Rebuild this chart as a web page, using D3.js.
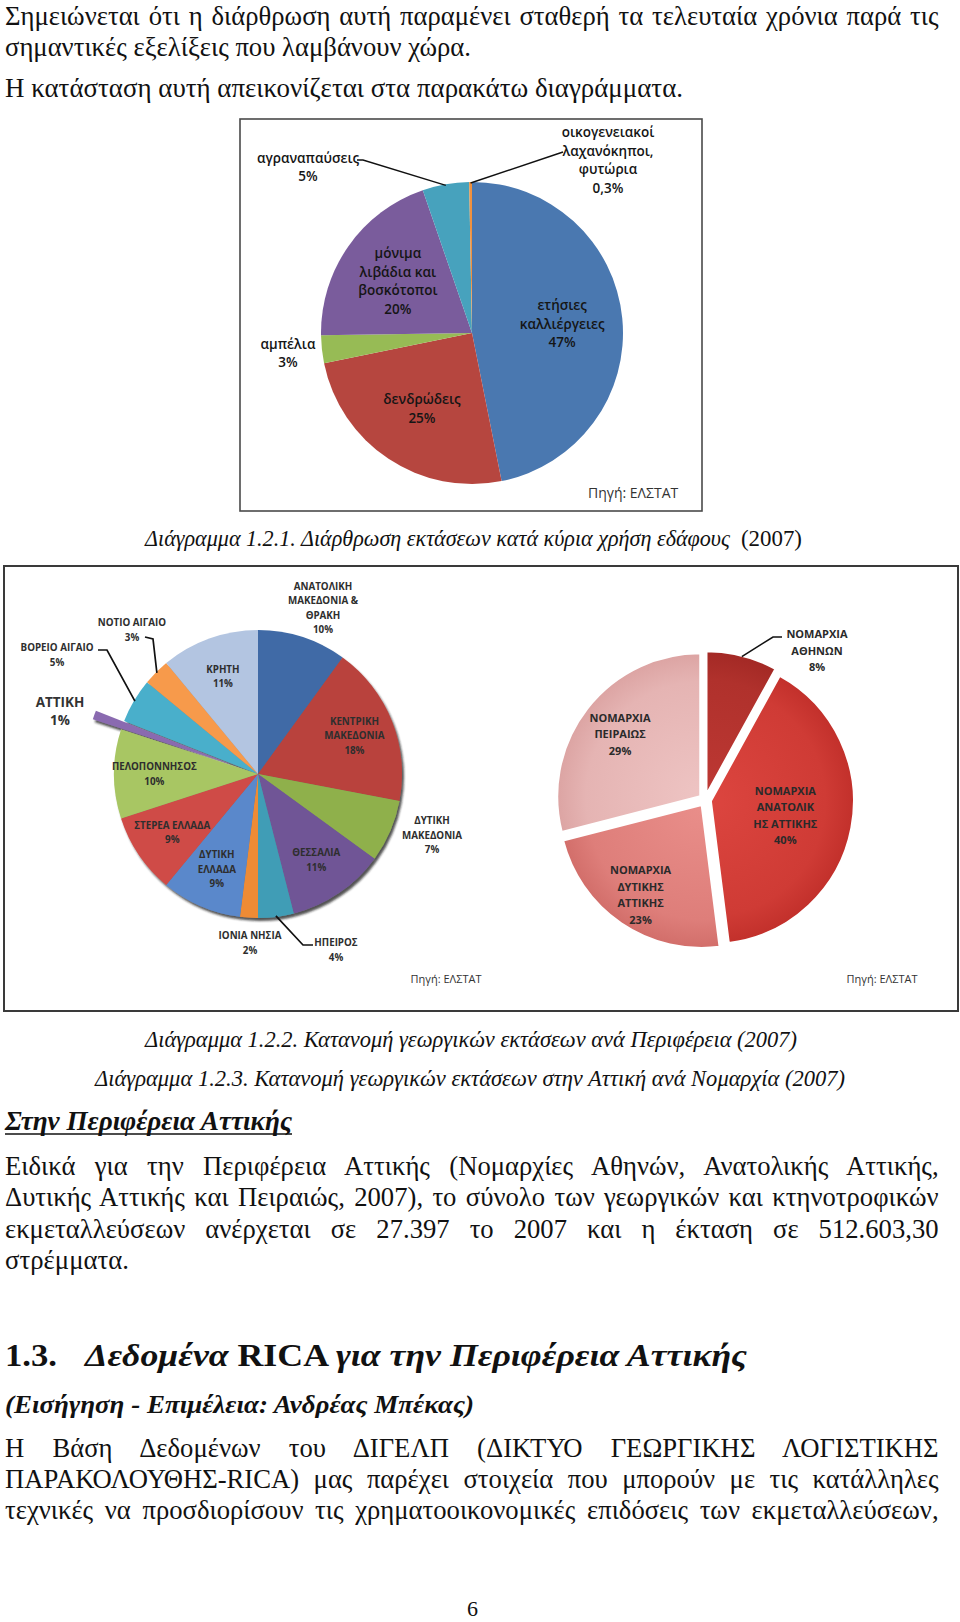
<!DOCTYPE html>
<html>
<head>
<meta charset="utf-8">
<script src="https://cdn.jsdelivr.net/npm/d3@7"></script>
<style>
  body { margin: 0; background: #fff; }
  svg { display: block; }
</style>
</head>
<body>
<script>
const width = 960
const height = 1622
const SERIF = '"Liberation Serif", "Times New Roman", serif'
const SANS = '"Open Sans", "Noto Sans", sans-serif'

// Διάγραμμα 1.2.1 - χρήση εδάφους
const landUseLines = [['ετήσιες', 'καλλιέργειες'], ['δενδρώδεις'], ['αμπέλια'],
    ['μόνιμα', 'λιβάδια και', 'βοσκότοποι'], ['αγραναπαύσεις'], ['οικογενειακοί', 'λαχανόκηποι,', 'φυτώρια']]
const landUseShare = [47, 25, 3, 20, 5, 0.3]
const landUseColors = ['#4a78b0', '#b6463f', '#97bb55', '#7a5c9c', '#47a2bd', '#f0913f']

// Διάγραμμα 1.2.2 - ανά Περιφέρεια
const regionLines = [['ΑΝΑΤΟΛΙΚΗ', 'ΜΑΚΕΔΟΝΙΑ &', 'ΘΡΑΚΗ'], ['ΚΕΝΤΡΙΚΗ', 'ΜΑΚΕΔΟΝΙΑ'], ['ΔΥΤΙΚΗ', 'ΜΑΚΕΔΟΝΙΑ'],
    ['ΘΕΣΣΑΛΙΑ'], ['ΗΠΕΙΡΟΣ'], ['ΙΟΝΙΑ ΝΗΣΙΑ'], ['ΔΥΤΙΚΗ', 'ΕΛΛΑΔΑ'], ['ΣΤΕΡΕΑ ΕΛΛΑΔΑ'],
    ['ΠΕΛΟΠΟΝΝΗΣΟΣ'], ['ΑΤΤΙΚΗ'], ['ΒΟΡΕΙΟ ΑΙΓΑΙΟ'], ['ΝΟΤΙΟ ΑΙΓΑΙΟ'], ['ΚΡΗΤΗ']]
const regionShare = [10, 18, 7, 11, 4, 2, 9, 9, 10, 1, 5, 3, 11]
const regionColors = ['#3f6aa6', '#b9423d', '#8fb04c', '#6f5596', '#3f9db6', '#ee8b36',
    '#5a88cb', '#cf4b47', '#a8c663', '#8a6bb0', '#49afcb', '#f79a4b', '#b3c5e1']

// Διάγραμμα 1.2.3 - Αττική ανά Νομαρχία
const nomosLines = [['ΝΟΜΑΡΧΙΑ', 'ΑΘΗΝΩΝ'], ['ΝΟΜΑΡΧΙΑ', 'ΑΝΑΤΟΛΙΚ', 'ΗΣ ΑΤΤΙΚΗΣ'],
    ['ΝΟΜΑΡΧΙΑ', 'ΔΥΤΙΚΗΣ', 'ΑΤΤΙΚΗΣ'], ['ΝΟΜΑΡΧΙΑ', 'ΠΕΙΡΑΙΩΣ']]
const nomosShare = [8, 40, 23, 29]
const nomosColors = [['#bd3833', '#a32925'], ['#dc453f', '#c2302b'], ['#e98e8a', '#d26e6a'], ['#eec4c3', '#dca4a3']]

const pct = v => String(v).replace('.', ',') + '%'

const svg = d3.select('body')
    .append('svg')
    .attr('width', width)
    .attr('height', height)
    .attr('viewBox', `0 0 ${width} ${height}`)

const defs = svg.append('defs')
const shadow = defs.append('filter').attr('id', 'shadow')
    .attr('x', '-20%').attr('y', '-20%').attr('width', '140%').attr('height', '140%')
shadow.append('feDropShadow')
    .attr('dx', 2).attr('dy', 3).attr('stdDeviation', 1.2)
    .attr('flood-color', '#1a1a1a').attr('flood-opacity', 0.75)

// ---------- page text ----------
const body = 26.5
let SX = 1 // horizontal glyph scale, measured from a free (non justified) line below

function measure (runs, size) {
    const t = svg.append('text').attr('font-family', SERIF).attr('font-size', size)
    runs.forEach(r => t.append('tspan').text(r[0])
        .attr('font-style', r[1].includes('i') ? 'italic' : null)
        .attr('font-weight', r[1].includes('b') ? 'bold' : null))
    const w = t.node().getComputedTextLength()
    t.remove()
    return w
}

function docLine (spec) {
    const t = svg.append('text')
        .attr('y', spec.y)
        .attr('font-family', SERIF)
        .attr('font-size', spec.size)
        .attr('fill', '#111')
    spec.runs.forEach(r => {
        t.append('tspan')
            .text(r[0])
            .attr('font-style', r[1].includes('i') ? 'italic' : null)
            .attr('font-weight', r[1].includes('b') ? 'bold' : null)
    })
    const natural = t.node().getComputedTextLength()
    const target = spec.x1 - spec.x0
    if (spec.justify) {
        const full = spec.runs.map(r => r[0]).join('')
        const spaces = (full.match(/ /g) || []).length
        const ws = (target / SX - natural) / spaces
        t.attr('word-spacing', ws)
            .attr('x', spec.x0 / SX)
            .attr('transform', `scale(${SX},1)`)
    } else {
        t.attr('x', spec.x0)
            .attr('textLength', target)
            .attr('lengthAdjust', 'spacingAndGlyphs')
    }
    if (spec.underline) {
        svg.append('line')
            .attr('x1', spec.x0).attr('x2', spec.x1)
            .attr('y1', spec.y + 4).attr('y2', spec.y + 4)
            .attr('stroke', '#111').attr('stroke-width', 1.6)
    }
}

const pageLines = [
    {y: 25, x0: 5, x1: 939, size: body, justify: true, runs: [['Σημειώνεται ότι η διάρθρωση αυτή παραμένει σταθερή τα τελευταία χρόνια παρά τις', '']]},
    {y: 56, x0: 5, x1: 471, size: body, runs: [['σημαντικές εξελίξεις που λαμβάνουν χώρα.', '']]},
    {y: 97, x0: 5, x1: 683, size: body, runs: [['Η κατάσταση αυτή απεικονίζεται στα παρακάτω διαγράμματα.', '']]},
    {y: 546, x0: 145, x1: 730, size: 23, runs: [['Διάγραμμα 1.2.1. Διάρθρωση εκτάσεων κατά κύρια χρήση εδάφους', 'i']]},
    {y: 546, x0: 741, x1: 802, size: 23, runs: [['(2007)', '']]},
    {y: 1047, x0: 145, x1: 797, size: 23, runs: [['Διάγραμμα 1.2.2. Κατανομή γεωργικών εκτάσεων ανά Περιφέρεια (2007)', 'i']]},
    {y: 1086, x0: 95, x1: 845, size: 23, runs: [['Διάγραμμα 1.2.3. Κατανομή γεωργικών εκτάσεων στην Αττική ανά Νομαρχία (2007)', 'i']]},
    {y: 1130, x0: 5, x1: 292, size: body, underline: true, runs: [['Στην Περιφέρεια Αττικής', 'bi']]},
    {y: 1175, x0: 5, x1: 939, size: body, justify: true, runs: [['Ειδικά για την Περιφέρεια Αττικής (Νομαρχίες Αθηνών, Ανατολικής Αττικής,', '']]},
    {y: 1206, x0: 5, x1: 939, size: body, justify: true, runs: [['Δυτικής Αττικής και Πειραιώς, 2007), το σύνολο των γεωργικών και κτηνοτροφικών', '']]},
    {y: 1238, x0: 5, x1: 939, size: body, justify: true, runs: [['εκμεταλλεύσεων ανέρχεται σε 27.397 το 2007 και η έκταση σε 512.603,30', '']]},
    {y: 1269, x0: 5, x1: 129, size: body, runs: [['στρέμματα.', '']]},
    {y: 1366, x0: 5, x1: 57, size: 32, runs: [['1.3.', 'b']]},
    {y: 1366, x0: 85, x1: 747, size: 32, runs: [['Δεδομένα ', 'bi'], ['RICA ', 'b'], ['για την Περιφέρεια Αττικής', 'bi']]},
    {y: 1413, x0: 5, x1: 474, size: 25, runs: [['(Εισήγηση - Επιμέλεια: Ανδρέας Μπέκας)', 'bi']]},
    {y: 1457, x0: 5, x1: 939, size: body, justify: true, runs: [['Η Βάση Δεδομένων του ΔΙΓΕΛΠ (ΔΙΚΤΥΟ ΓΕΩΡΓΙΚΗΣ ΛΟΓΙΣΤΙΚΗΣ', '']]},
    {y: 1488, x0: 5, x1: 939, size: body, justify: true, runs: [['ΠΑΡΑΚΟΛΟΥΘΗΣ-RICA) μας παρέχει στοιχεία που μπορούν με τις κατάλληλες', '']]},
    {y: 1519, x0: 5, x1: 939, size: body, justify: true, runs: [['τεχνικές να προσδιορίσουν τις χρηματοοικονομικές επιδόσεις των εκμεταλλεύσεων,', '']]},
    {y: 1616, x0: 467, x1: 478, size: 21, runs: [['6', '']]}
]
// the glyph scale comes from the free line "σημαντικές εξελίξεις ..."
SX = (pageLines[1].x1 - pageLines[1].x0) / measure(pageLines[1].runs, body)
pageLines.forEach(docLine)

// ---------- chart frames ----------
svg.append('rect')
    .attr('x', 240).attr('y', 119).attr('width', 462).attr('height', 392)
    .attr('fill', 'none').attr('stroke', '#4a4a4a').attr('stroke-width', 1.6)
svg.append('rect')
    .attr('x', 4).attr('y', 566).attr('width', 954).attr('height', 445)
    .attr('fill', 'none').attr('stroke', '#3a3a3a').attr('stroke-width', 2)

// ---------- pies ----------
function drawPie (cfg) {
    const data = cfg.lines.map((lines, i) => ({lines, value: cfg.values[i], i}))
    const arcs = d3.pie().sort(null).value(d => d.value)(data)
    const arc = d3.arc().innerRadius(0).outerRadius(cfg.r)
    const g = svg.append('g').attr('transform', `translate(${cfg.cx},${cfg.cy})`)
    const sliceG = g.append('g').attr('filter', cfg.shadow ? 'url(#shadow)' : null)

    const mid = a => (a.startAngle + a.endAngle) / 2
    const polar = (ang, rad) => [Math.sin(ang) * rad, -Math.cos(ang) * rad]
    const explodeOf = a => (cfg.explode ? cfg.explode(a.data.i) : 0)

    // exploded slices drawn last so they sit on top
    const order = arcs.slice().sort((a, b) => explodeOf(a) - explodeOf(b))
    sliceG.selectAll('path')
        .data(order)
        .enter()
        .append('path')
        .attr('d', arc)
        .attr('transform', a => {
            const [dx, dy] = polar(mid(a), explodeOf(a))
            return `translate(${dx},${dy})`
        })
        .attr('fill', a => cfg.fill(a))
        .attr('stroke', cfg.stroke || 'none')
        .attr('stroke-width', cfg.strokeWidth || 0)

    arcs.forEach(a => {
        const i = a.data.i
        const lay = cfg.layout[i] || {}
        const off = explodeOf(a)
        let x, y
        if (lay.at) {
            [x, y] = lay.at
        } else {
            [x, y] = polar(mid(a), cfg.r * (lay.f || cfg.labelR) + off)
        }
        const size = lay.size || cfg.fontSize
        const lh = lay.lh || cfg.lineHeight
        const lines = a.data.lines.concat([pct(a.data.value)])
        const t = g.append('text')
            .attr('font-family', SANS)
            .attr('font-size', size)
            .attr('font-weight', cfg.weight)
            .attr('fill', lay.color || cfg.textColor)
            .attr('text-anchor', 'middle')
        lines.forEach((s, k) => {
            t.append('tspan')
                .attr('x', x)
                .attr('y', y - (lines.length - 1) * lh / 2 + k * lh + size * 0.36)
                .text(s)
        })
        if (lay.leader) {
            const end = polar(mid(a), cfg.r + off - 1)
            g.append('polyline')
                .attr('points', lay.leader.concat([end]).map(p => p.join(',')).join(' '))
                .attr('fill', 'none')
                .attr('stroke', '#111')
                .attr('stroke-width', cfg.leaderWidth || 1.3)
        }
    })
}

drawPie({
    cx: 472, cy: 333, r: 151,
    lines: landUseLines, values: landUseShare,
    fill: a => landUseColors[a.data.i],
    labelR: 0.6, fontSize: 13.5, lineHeight: 18.5, weight: 600, textColor: '#151515',
    leaderWidth: 1.4,
    layout: [
        {}, {}, {at: [-184, 20]}, {},
        {at: [-164, -166], leader: [[-115, -173], [-109, -173]]},
        {at: [136, -173], leader: [[91, -181]]}
    ]
})

drawPie({
    cx: 258, cy: 774, r: 144,
    lines: regionLines, values: regionShare,
    fill: a => regionColors[a.data.i],
    shadow: true,
    explode: i => (i === 9 ? 30 : 0),
    labelR: 0.72, fontSize: 9.8, lineHeight: 14.5, weight: 'bold', textColor: '#2e2e2e',
    leaderWidth: 1.7,
    layout: [
        {at: [65, -166]}, {}, {at: [174, 61]}, {},
        {at: [78, 176], leader: [[55, 171], [45, 171]]},
        {at: [-8, 169]}, {}, {}, {},
        {at: [-198, -63], size: 13.5, lh: 18, color: '#333'},
        {at: [-201, -119], leader: [[-160, -124], [-151, -124]]},
        {at: [-126, -144], leader: [[-113, -137], [-105, -135]]},
        {}
    ]
})

// radial shading for the Attica pie
nomosColors.forEach((c, i) => {
    const gr = defs.append('radialGradient')
        .attr('id', 'nomos' + i)
        .attr('gradientUnits', 'userSpaceOnUse')
        .attr('cx', 0).attr('cy', 0).attr('r', 143)
    gr.append('stop').attr('offset', '0%').attr('stop-color', c[0])
    gr.append('stop').attr('offset', '80%').attr('stop-color', d3.interpolateRgb(c[0], c[1])(0.5))
    gr.append('stop').attr('offset', '100%').attr('stop-color', c[1])
})

drawPie({
    cx: 705, cy: 800, r: 143,
    lines: nomosLines, values: nomosShare,
    fill: a => `url(#nomos${a.data.i})`,
    explode: () => 6,
    stroke: '#fff', strokeWidth: 2,
    labelR: 0.6, fontSize: 11, lineHeight: 16.5, weight: 'bold', textColor: '#2a2a2a',
    leaderWidth: 1.6,
    layout: [
        {at: [112, -149], leader: [[77, -163], [68, -163]]},
        {f: 0.53}, {f: 0.76}, {f: 0.71}
    ]
})

// source notes
const sources = [
    {x: 588, y: 498, size: 14, anchor: 'start'},
    {x: 446, y: 983, size: 11, anchor: 'middle'},
    {x: 882, y: 983, size: 11, anchor: 'middle'}
]
sources.forEach(s => {
    svg.append('text')
        .attr('x', s.x).attr('y', s.y)
        .attr('font-family', SANS)
        .attr('font-size', s.size)
        .attr('text-anchor', s.anchor)
        .attr('fill', '#333')
        .text('Πηγή: ΕΛΣΤΑΤ')
})
</script>
</body>
</html>
